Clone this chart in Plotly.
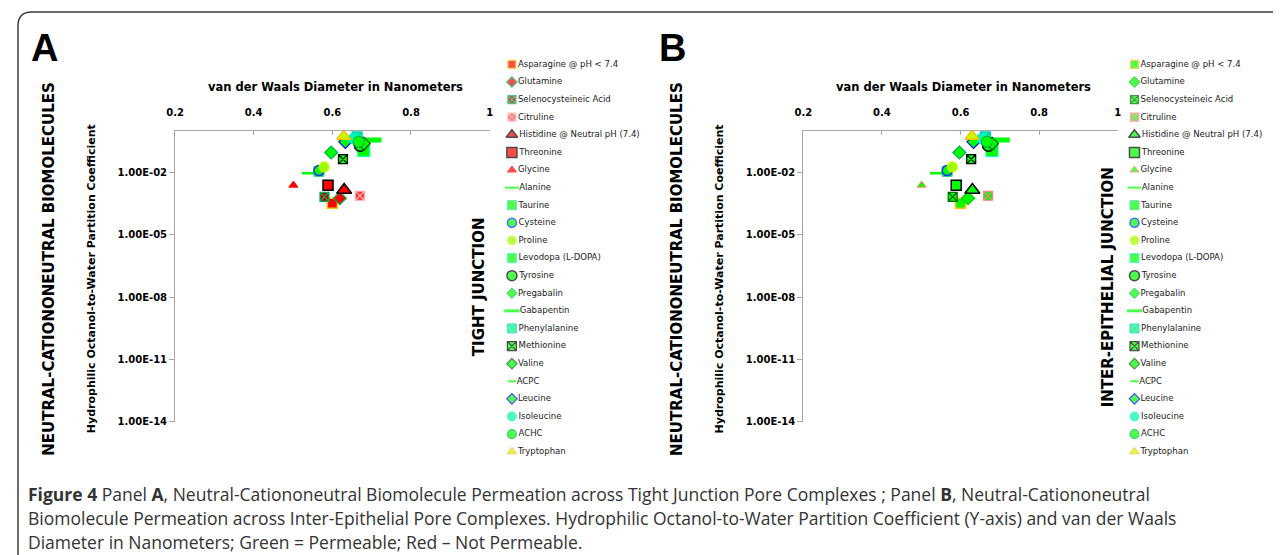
import plotly.graph_objects as go

# ---------------- data ----------------
names = ["Asparagine @ pH < 7.4", "Glutamine", "Selenocysteineic Acid", "Citruline",
         "Histidine @ Neutral pH (7.4)", "Threonine", "Glycine", "Alanine", "Taurine",
         "Cysteine", "Proline", "Levodopa (L-DOPA)", "Tyrosine", "Pregabalin", "Gabapentin",
         "Phenylalanine", "Methionine", "Valine", "ACPC", "Leucine", "Isoleucine", "ACHC",
         "Tryptophan"]
vdw_diameter_nm = [0.600, 0.619, 0.580, 0.670, 0.630, 0.589, 0.501, 0.540, 0.566, 0.566,
                   0.579, 0.680, 0.671, 0.597, 0.700, 0.663, 0.627, 0.680, 0.638, 0.633,
                   0.654, 0.667, 0.629]
partition_coef = [3.2e-4, 5.6e-4, 6.6e-4, 7.4e-4, 1.4e-3, 2.4e-3, 2.4e-3, 8.9e-3, 1.1e-2,
                  1.2e-2, 1.8e-2, 1.1e-1, 2.0e-1, 8.9e-2, 3.5e-1, 5.0e-1, 4.3e-2, 2.4e-1,
                  2.9e-1, 2.9e-1, 4.2e-1, 2.9e-1, 5.4e-1]
x_ticks = [0.2, 0.4, 0.6, 0.8, 1.0]
x_tick_labels = ["0.2", "0.4", "0.6", "0.8", "1"]
y_ticks = [1e-2, 1e-5, 1e-8, 1e-11, 1e-14]
y_tick_labels = ["1.00E-02", "1.00E-05", "1.00E-08", "1.00E-11", "1.00E-14"]

# ---------------- styles ----------------
symbols = ["square", "diamond", "square-x", "square-x", "triangle-up", "square", "triangle-up",
           "line-ew", "square", "circle", "circle", "square", "circle", "diamond", "line-ew",
           "square-x", "square-x", "diamond", "line-ew", "diamond", "circle", "circle",
           "triangle-up"]
fill_A = ["#ff0000", "#ff0000", "#c00000", "#ff3333", "#ff0000", "#ff0000", "#ff0000",
          "#00ff00", "#00ff00", "#00ff00", "#99ff00", "#00ff00", "#00ff00", "#00ff00",
          "#00ff00", "#00ff66", "#00ff00", "#00ff00", "#00ff00", "#00ff00", "#00ff99",
          "#00ff00", "#bfff00"]
line_A = ["#ffc000", "#00b050", "#00b050", "#ffaaaa", "#000000", "#000000", "#ff0000",
          "#00ff00", "#33cc99", "#0033ff", "#ccff00", "#00ffcc", "#000000", "#00b050",
          "#00ff00", "#00cccc", "#000000", "#006600", "#00ff00", "#0000ff", "#00e5ff",
          "#00b050", "#ffc000"]
fill_B = ["#00ff00"] * 7 + fill_A[7:]
line_B = ["#ffc000", "#00cc00", "#006600", "#ff8080", "#000000", "#000000", "#ff8060"] + line_A[7:]
sizes = [10, 10, 9, 9, 13, 10, 8, 10, 10, 10, 10, 12, 12, 10, 14, 10, 9, 10, 6, 10, 10, 11, 12]
line_w = [1.5, 1.2, 1.2, 1.2, 1.5, 1.5, 1, 2.5, 1, 1.5, 1.2, 1, 1.5, 1.2, 5, 1.2, 1.2, 1.2, 2.5,
          1.2, 1.2, 1.2, 1.5]
leg_sizes = [8, 8, 8, 8, 10, 10, 8, 10, 9, 9, 9, 9, 10, 8, 11, 9, 9, 8, 6, 8, 9, 9, 8]
leg_line_w = [1.2, 1.2, 1.2, 1.2, 1.5, 1.5, 1, 2, 1, 1.5, 1, 1, 1.5, 1, 3, 1, 1.2, 1.2, 2,
              1.2, 1, 1.2, 1.2]

# page geometry (the page body adds an 8px margin, so the figure starts at page (8, 8))
PAGE_OFF = 8
W, H = 1273, 547
def px(x):
    return (x - PAGE_OFF) / W
def py(y):
    return 1 - (y - PAGE_OFF) / H

OFF = 634.7           # horizontal offset of panel B
PLOT_X0, PLOT_X1 = 167.7, 485.5
PLOT_Y0, PLOT_Y1 = 132.0, 426.4
LEG_TOP, LEG_STEP = 65.0, 17.8

fig = go.Figure()

axis_font = dict(family="DejaVu Sans", size=10, color="#000000", weight="bold")
for p, (fills, lines, xa, ya) in enumerate([(fill_A, line_A, "x", "y"), (fill_B, line_B, "x2", "y2")]):
    for i, n in enumerate(names):
        fig.add_trace(go.Scatter(
            x=[vdw_diameter_nm[i]], y=[partition_coef[i]], name=n, mode="markers",
            xaxis=xa, yaxis=ya, showlegend=False,
            marker=dict(symbol=symbols[i], size=sizes[i], color=fills[i],
                        line=dict(color=lines[i], width=line_w[i]))))

# legends drawn as marker+text columns on hidden axes (page-pixel units)
leg_rows = [LEG_TOP + LEG_STEP * i for i in range(len(names))]
leg_font = "DejaVu Sans Condensed, Liberation Sans Narrow, Roboto Condensed, Liberation Sans, sans-serif"
for p, (fills, lines, xa, ya, x0) in enumerate([(fill_A, line_A, "x3", "y3", 500.0),
                                                (fill_B, line_B, "x4", "y4", 1129.0)]):
    fig.add_trace(go.Scatter(
        x=[x0 + 8] * len(names), y=leg_rows, xaxis=xa, yaxis=ya, mode="markers+text",
        text=names, textposition="middle right", showlegend=False, hoverinfo="skip",
        textfont=dict(family=leg_font, size=9.5, color="#222222"),
        marker=dict(symbol=symbols, size=leg_sizes, color=fills,
                    line=dict(color=lines, width=leg_line_w))))

def xaxis_cfg(off):
    return dict(domain=[px(PLOT_X0 + off), px(PLOT_X1 + off)], range=[0.2, 1.0], side="top",
                showline=True, linecolor="#a6a6a6", linewidth=1, ticks="inside", ticklen=4,
                tickcolor="#a6a6a6", tickvals=x_ticks, ticktext=x_tick_labels,
                tickfont=axis_font, showgrid=False, zeroline=False, ticklabelstandoff=10,
                fixedrange=True)

def yaxis_cfg(anchor):
    return dict(domain=[py(PLOT_Y1), py(PLOT_Y0)], type="log", range=[-14, 0], anchor=anchor,
                showline=True, linecolor="#a6a6a6", linewidth=1, ticks="outside", ticklen=5,
                tickcolor="#a6a6a6", tickvals=y_ticks, ticktext=y_tick_labels,
                tickfont=axis_font, showgrid=False, zeroline=False, fixedrange=True)

fig.update_layout(
    width=W, height=H, margin=dict(l=0, r=0, t=0, b=0),
    paper_bgcolor="white", plot_bgcolor="white", showlegend=False,
    xaxis=dict(xaxis_cfg(0), anchor="y"),
    yaxis=yaxis_cfg("x"),
    xaxis2=dict(xaxis_cfg(OFF), anchor="y2"),
    yaxis2=yaxis_cfg("x2"),
    xaxis3=dict(domain=[px(500), px(640)], range=[500, 640], visible=False, anchor="y3"),
    yaxis3=dict(domain=[0, 1], range=[PAGE_OFF + H, PAGE_OFF], visible=False, anchor="x3"),
    xaxis4=dict(domain=[px(1129), px(1269)], range=[1129, 1269], visible=False, anchor="y4"),
    yaxis4=dict(domain=[0, 1], range=[PAGE_OFF + H, PAGE_OFF], visible=False, anchor="x4"),
)

ann = []
def add_text(text, x, y, size, family="DejaVu Sans", bold=True, angle=0, xanchor="center",
             color="#000000"):
    ann.append(dict(text=text, x=px(x), y=py(y), xref="paper", yref="paper", showarrow=False,
                    textangle=angle, xanchor=xanchor, yanchor="middle",
                    font=dict(family=family, size=size, color=color,
                              weight="bold" if bold else "normal")))

for off, letter, side_title in [(0, "A", "TIGHT JUNCTION"), (OFF, "B", "INTER-EPITHELIAL JUNCTION")]:
    add_text(letter, 36 + off, 48, 38, family="Liberation Sans")
    add_text("NEUTRAL-CATIONONEUTRAL BIOMOLECULES", 40 + off, 272, 15, angle=-90)
    add_text("Hydrophilic Octanol-to-Water Partition Coefficient", 84 + off, 282, 11, angle=-90)
    add_text("van der Waals Diameter in Nanometers", 330 + off, 88, 11.5)
    add_text(side_title, 475 + off, 290, 15, angle=-90)

cap_font = "Open Sans"
cap_size = 17.5
add_text("<b>Figure 4</b> Panel <b>A</b>, Neutral-Cationoneutral Biomolecule Permeation across "
         "Tight Junction Pore Complexes ; Panel <b>B</b>, Neutral-Cationoneutral",
         17, 499, cap_size, family=cap_font, bold=False, xanchor="left", color="#333333")
add_text("Biomolecule Permeation across Inter-Epithelial Pore Complexes. Hydrophilic "
         "Octanol-to-Water Partition Coefficient (Y-axis) and van der Waals",
         17, 524, cap_size, family=cap_font, bold=False, xanchor="left", color="#333333")
add_text("Diameter in Nanometers; Green = Permeable; Red \u2013 Not Permeable.",
         17, 548, cap_size, family=cap_font, bold=False, xanchor="left", color="#333333")
fig.update_layout(annotations=ann)

fig.add_shape(type="path", xref="paper", yref="paper",
              path=f"M {px(9)},{py(600)} L {px(9)},{py(26)} Q {px(9)},{py(12)} {px(23)},{py(12)} L {px(1300)},{py(12)}",
              line=dict(color="#3a3a3a", width=1.5))

fig.write_html("out.html")
